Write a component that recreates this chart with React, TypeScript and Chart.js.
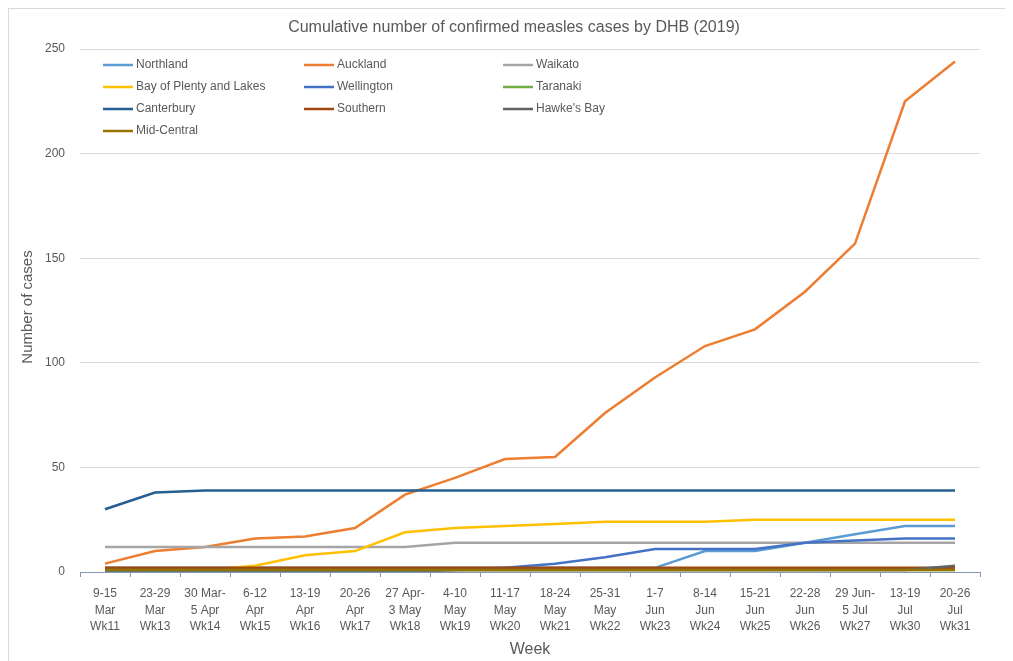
import { useEffect, useRef } from "react";
import { Chart, registerables } from "chart.js";

Chart.register(...registerables);

const chartTitle = "Cumulative number of confirmed measles cases by DHB (2019)";
const yTitle = "Number of cases";
const xTitle = "Week";

const weekLabels: string[][] = [
  ["9-15", "Mar", "Wk11"],
  ["23-29", "Mar", "Wk13"],
  ["30 Mar-", "5 Apr", "Wk14"],
  ["6-12", "Apr", "Wk15"],
  ["13-19", "Apr", "Wk16"],
  ["20-26", "Apr", "Wk17"],
  ["27 Apr-", "3 May", "Wk18"],
  ["4-10", "May", "Wk19"],
  ["11-17", "May", "Wk20"],
  ["18-24", "May", "Wk21"],
  ["25-31", "May", "Wk22"],
  ["1-7", "Jun", "Wk23"],
  ["8-14", "Jun", "Wk24"],
  ["15-21", "Jun", "Wk25"],
  ["22-28", "Jun", "Wk26"],
  ["29 Jun-", "5 Jul", "Wk27"],
  ["13-19", "Jul", "Wk30"],
  ["20-26", "Jul", "Wk31"],
];

const northland = [2, 2, 2, 2, 2, 2, 2, 2, 2, 2, 2, 2, 10, 10, 14, 18, 22, 22];
const auckland = [4, 10, 12, 16, 17, 21, 37, 45, 54, 55, 76, 93, 108, 116, 134, 157, 225, 244];
const waikato = [12, 12, 12, 12, 12, 12, 12, 14, 14, 14, 14, 14, 14, 14, 14, 14, 14, 14];
const bayOfPlenty = [1, 1, 1, 3, 8, 10, 19, 21, 22, 23, 24, 24, 24, 25, 25, 25, 25, 25];
const wellington = [0, 0, 0, 0, 0, 0, 0, 1, 2, 4, 7, 11, 11, 11, 14, 15, 16, 16];
const taranaki = [1, 1, 1, 1, 1, 1, 1, 1, 1, 1, 1, 1, 1, 1, 1, 1, 1, 1];
const canterbury = [30, 38, 39, 39, 39, 39, 39, 39, 39, 39, 39, 39, 39, 39, 39, 39, 39, 39];
const southern = [2, 2, 2, 2, 2, 2, 2, 2, 2, 2, 2, 2, 2, 2, 2, 2, 2, 2];
const hawkesBay = [1, 1, 1, 1, 1, 1, 1, 1, 1, 1, 1, 1, 1, 1, 1, 1, 1, 3];
const midCentral = [1, 1, 1, 1, 1, 1, 1, 1, 1, 1, 1, 1, 1, 1, 1, 1, 1, 1];

const seriesNames = [
  "Northland",
  "Auckland",
  "Waikato",
  "Bay of Plenty and Lakes",
  "Wellington",
  "Taranaki",
  "Canterbury",
  "Southern",
  "Hawke's Bay",
  "Mid-Central",
];
const seriesValues = [
  northland,
  auckland,
  waikato,
  bayOfPlenty,
  wellington,
  taranaki,
  canterbury,
  southern,
  hawkesBay,
  midCentral,
];
const seriesColors = [
  "#5B9BD5",
  "#ED7D31",
  "#A5A5A5",
  "#FFC000",
  "#4472C4",
  "#70AD47",
  "#255E91",
  "#9E480E",
  "#636363",
  "#997300",
];

const yTicks = { min: 0, max: 250, step: 50 };

const FONT = "'Liberation Sans', Arial, sans-serif";
const TEXT = "#595959";

export default function App() {
  const ref = useRef<HTMLCanvasElement>(null);

  useEffect(() => {
    document.documentElement.style.overflow = "hidden";
    const canvas = ref.current;
    if (!canvas) return;

    const textPlugin = {
      id: "customTexts",
      afterDraw(chart: any) {
        const ctx = chart.ctx as CanvasRenderingContext2D;
        const area = chart.chartArea;
        ctx.save();
        ctx.fillStyle = TEXT;
        ctx.textBaseline = "middle";
        // title
        ctx.font = `16px ${FONT}`;
        ctx.textAlign = "center";
        ctx.fillText(chartTitle, 505, 19);
        // x title
        ctx.font = `16px ${FONT}`;
        ctx.fillText(xTitle, (area.left + area.right) / 2, 641);
        // y title
        ctx.save();
        ctx.translate(19, 298);
        ctx.rotate(-Math.PI / 2);
        ctx.font = `15px ${FONT}`;
        ctx.fillText(yTitle, 0, 0);
        ctx.restore();
        // legend grid
        const colX = [94, 295, 494];
        const rowY = [56, 78, 100, 122];
        ctx.font = `12px ${FONT}`;
        ctx.textAlign = "left";
        seriesNames.forEach((name, i) => {
          const c = i % 3;
          const r = Math.floor(i / 3);
          const x = colX[c];
          const y = rowY[r];
          ctx.strokeStyle = seriesColors[i];
          ctx.lineWidth = 2.5;
          ctx.beginPath();
          ctx.moveTo(x, y);
          ctx.lineTo(x + 30, y);
          ctx.stroke();
          ctx.fillStyle = TEXT;
          ctx.fillText(name, x + 33, y);
        });
        ctx.restore();
      },
    };

    const chart = new Chart(canvas, {
      type: "line",
      data: {
        labels: weekLabels,
        datasets: seriesValues.map((d, i) => ({
          label: seriesNames[i],
          data: d,
          borderColor: seriesColors[i],
          backgroundColor: seriesColors[i],
          borderWidth: 2.5,
          pointRadius: 0,
          pointHoverRadius: 0,
          tension: 0,
          fill: false,
          order: seriesNames.length - i,
        })),
      },
      options: {
        responsive: false,
        animation: false,
        layout: { padding: { top: 40, right: 27, left: 0, bottom: 0 } },
        plugins: {
          legend: { display: false },
          title: { display: false },
          tooltip: { enabled: false },
        },
        scales: {
          x: {
            offset: true,
            afterFit: (s: any) => {
              s.height = 90;
            },
            grid: {
              display: true,
              drawOnChartArea: false,
              drawTicks: true,
              tickLength: 5,
              offset: true,
              color: "#8497b0",
            },
            border: { display: true, color: "#8497b0", width: 1 },
            ticks: {
              autoSkip: false,
              maxRotation: 0,
              minRotation: 0,
              padding: 8,
              color: TEXT,
              font: { family: FONT, size: 12, lineHeight: 1.4 },
            },
          },
          y: {
            min: yTicks.min,
            max: yTicks.max,
            afterFit: (s: any) => {
              s.width = 71;
            },
            grid: { color: "#d9d9d9", drawTicks: false, lineWidth: 1 },
            border: { display: false },
            ticks: {
              stepSize: yTicks.step,
              padding: 15,
              color: TEXT,
              font: { family: FONT, size: 12 },
            },
          },
        },
      },
      plugins: [textPlugin],
    });

    return () => chart.destroy();
  }, []);

  return (
    <div style={{ border: "1px solid #d9d9d9", width: 998, height: 653 }}>
      <canvas ref={ref} width={998} height={653} style={{ display: "block" }} />
    </div>
  );
}
